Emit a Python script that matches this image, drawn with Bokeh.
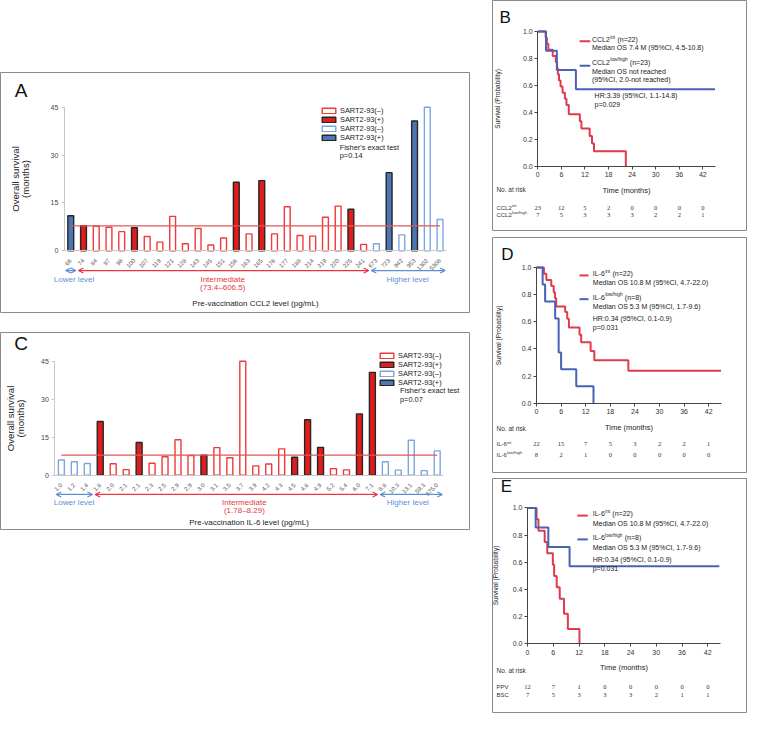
import math
from bokeh.plotting import figure
from bokeh.models import (ColumnDataSource, Range1d, FixedTicker, Label, LabelSet,
                          Arrow, OpenHead, Legend, LegendItem, Spacer, PrintfTickFormatter)
from bokeh.layouts import row, column
from bokeh.embed import file_html
from bokeh.resources import INLINE

FONT = "Liberation Sans"

# ---------------- Panel A data (CCL2) ----------------
ccl2_levels = ["66", "74", "84", "97", "98", "100", "107", "119", "121", "128", "143", "145",
               "151", "156", "163", "165", "176", "177", "188", "214", "219", "220", "225",
               "241", "673", "723", "942", "953", "1302", "5308"]
ccl2_os = [11.0, 7.9, 7.7, 7.4, 6.0, 7.2, 4.5, 2.7, 10.8, 2.2, 7.0, 1.8, 4.0, 21.5, 5.3,
           22.0, 5.3, 13.8, 4.8, 4.6, 10.5, 14.0, 13.0, 2.0, 2.2, 24.5, 5.0, 40.7, 45.0, 9.8]
ccl2_sart = [1, 1, 0, 0, 0, 1, 0, 0, 0, 0, 0, 0, 0, 1, 0, 1, 0, 0, 0, 0, 0, 0, 1, 0,
             0, 1, 0, 1, 0, 0]
ccl2_group = ["Lower"] * 1 + ["Intermediate"] * 23 + ["Higher"] * 6
ccl2_median_os = 7.8
ccl2_range = "(73.4–606.5)"
ccl2_p = "p=0.14"

# ---------------- Panel C data (IL-6) ----------------
il6_levels = ["1.0", "1.2", "1.4", "1.8", "2.0", "2.1", "2.1", "2.3", "2.5", "2.9", "2.9",
              "3.0", "3.1", "3.5", "3.7", "3.9", "4.2", "4.3", "4.5", "4.6", "4.9", "5.2",
              "5.4", "6.0", "7.1", "8.8", "10.3", "13.1", "59.3", "875.0"]
il6_os = [6.0, 5.3, 4.6, 21.2, 4.5, 2.2, 12.9, 4.7, 7.3, 14.0, 7.8, 7.9, 10.9, 6.9, 45.0,
          3.7, 4.4, 10.4, 7.1, 21.9, 11.0, 2.6, 2.1, 24.2, 40.6, 5.3, 2.0, 13.8, 1.8, 9.6]
il6_sart = [0, 0, 0, 1, 0, 0, 1, 0, 0, 0, 0, 1, 0, 0, 0, 0, 0, 0, 1, 1, 1, 0, 0, 1, 1,
            0, 0, 0, 0, 0]
il6_group = ["Lower"] * 3 + ["Intermediate"] * 22 + ["Higher"] * 5
il6_median_os = 7.9
il6_range = "(1.78–8.29)"
il6_p = "p=0.07"

# ---------------- Kaplan-Meier data ----------------
time_ticks = [0, 6, 12, 18, 24, 30, 36, 42]
surv_ticks = [0.0, 0.2, 0.4, 0.6, 0.8, 1.0]

B_int_t = [0, 2.0, 2.3, 2.7, 3.8, 4.6, 4.9, 5.1, 5.4, 5.8, 6.3, 6.9, 7.3, 7.9, 10.7, 11.1,
           13.2, 13.8, 14.3, 22.4]
B_int_s = [1.0, 0.955, 0.909, 0.864, 0.818, 0.773, 0.727, 0.682, 0.636, 0.591, 0.545, 0.5,
           0.455, 0.386, 0.334, 0.28, 0.225, 0.169, 0.111, 0.0]
B_low_t = [0, 2.1, 4.85, 9.7, 45.1]
B_low_s = [1.0, 0.857, 0.714, 0.571, 0.571]
B_risk_int = [23, 12, 5, 2, 0, 0, 0, 0]
B_risk_low = [7, 5, 3, 3, 3, 2, 2, 1]

D_int_t = [0, 1.8, 2.4, 3.6, 4.2, 4.5, 4.8, 7.0, 7.5, 7.9, 10.5, 10.9, 13.2, 14.1, 22.4, 45.0]
D_int_s = [1.0, 0.955, 0.909, 0.864, 0.818, 0.773, 0.714, 0.673, 0.623, 0.558, 0.505, 0.449,
           0.385, 0.317, 0.240, 0.240]
D_low_t = [0, 1.5, 2.1, 4.55, 5.4, 6.0, 9.7, 13.9]
D_low_s = [1.0, 0.875, 0.75, 0.625, 0.375, 0.25, 0.125, 0.0]
D_risk_int = [22, 15, 7, 5, 3, 2, 2, 1]
D_risk_low = [8, 2, 1, 0, 0, 0, 0, 0]

E_int_t = [0, 2.1, 2.55, 4.0, 4.6, 5.9, 6.2, 6.8, 7.5, 8.5, 9.4, 12.1]
E_int_s = [1.0, 0.917, 0.833, 0.75, 0.667, 0.583, 0.5, 0.417, 0.333, 0.222, 0.111, 0.0]
E_low_t = [0, 1.9, 4.85, 9.8, 44.7]
E_low_s = [1.0, 0.857, 0.714, 0.571, 0.571]
E_risk_ppv = [12, 7, 1, 0, 0, 0, 0, 0]
E_risk_bsc = [7, 5, 3, 3, 3, 2, 1, 1]

# ---------------- styling ----------------
BORDER = "#8a8a8a"
RED_EDGE, RED_FILL = "#f03a3a", "#e01c1c"
BLUE_EDGE, BLUE_FILL = "#7ea5de", "#4c76b2"
DARK = "#262626"
BAR_STYLE = {("red", 0): (RED_EDGE, "white"), ("red", 1): (DARK, RED_FILL),
             ("blue", 0): (BLUE_EDGE, "white"), ("blue", 1): (DARK, BLUE_FILL)}
TXT_BLUE, TXT_RED = "#5b8fd6", "#e8373d"
KM_RED, KM_BLUE = "#e03a4c", "#4862b6"

AW = {'C': 722, 'L': 556, '2': 556, 'I': 278, '-': 333, '6': 556, 'i': 222, 'n': 556,
      't': 278, 'l': 222, 'o': 556, 'w': 722, '/': 278, 'h': 556, 'g': 556, ' ': 278}


def tw(s, size):
    return sum(AW.get(c, 556) for c in s) / 1000.0 * size


def lbl(p, x, y, text, size, color="#222", align="left", baseline="middle", xo=0, yo=0):
    p.add_layout(Label(x=x, y=y, text=text, x_offset=xo, y_offset=yo, text_font=FONT,
                       text_font_size=f"{size}px", text_color=color, text_align=align,
                       text_baseline=baseline))


def sup_lbl(p, x, y, base, sup, rest, size, color="#222"):
    lbl(p, x, y, base, size, color)
    w1 = tw(base, size)
    ss = round(size * 0.68, 2)
    lbl(p, x, y, sup, ss, color, xo=w1 + 0.3, yo=size * 0.38)
    if rest:
        lbl(p, x, y, rest, size, color, xo=w1 + tw(sup, ss) + 0.6 + tw(" ", size))


def base_fig(W, H, xr, yr):
    p = figure(width=W, height=H, x_range=Range1d(*xr), y_range=Range1d(*yr),
               output_backend="svg", toolbar_location=None, min_border=0,
               min_border_left=0, min_border_right=0, min_border_top=0, min_border_bottom=0)
    p.outline_line_color = BORDER
    p.outline_line_width = 1
    p.background_fill_color = "white"
    p.border_fill_color = "white"
    p.xgrid.grid_line_color = None
    p.ygrid.grid_line_color = None
    return p


def make_bar(levels, os_m, sart, group, median, range_text, pval, letter, xlabel, c):
    n = len(levels)
    xs = list(range(1, n + 1))
    p = base_fig(c["W"], c["H"], c["xr"], c["yr"])
    colors = ["red" if g == "Intermediate" else "blue" for g in group]
    rend = {}
    for key in [("red", 0), ("red", 1), ("blue", 0), ("blue", 1)]:
        idx = [i for i in range(n) if colors[i] == key[0] and sart[i] == key[1]]
        if idx:
            data = dict(x=[xs[i] for i in idx], top=[os_m[i] for i in idx])
        else:  # no patient in this group: empty proxy so the legend still shows the key
            data = dict(x=[float("nan")], top=[float("nan")])
        lc, fc = BAR_STYLE[key]
        rend[key] = p.vbar(x="x", top="top", bottom=0, width=0.46,
                           source=ColumnDataSource(data),
                           fill_color=fc, line_color=lc, line_width=1.4)
    p.line([xs[0], xs[-1]], [median, median], line_color="#e05858", line_width=1.3)

    legend = Legend(items=[LegendItem(label="SART2-93(–)", renderers=[rend[("red", 0)]]),
                           LegendItem(label="SART2-93(+)", renderers=[rend[("red", 1)]]),
                           LegendItem(label="SART2-93(–)", renderers=[rend[("blue", 0)]]),
                           LegendItem(label="SART2-93(+)", renderers=[rend[("blue", 1)]])],
                    location=c["leg"], glyph_width=17, glyph_height=7, label_height=7,
                    spacing=-1, padding=0, margin=0, label_standoff=3,
                    border_line_color=None, background_fill_alpha=0,
                    label_text_font=FONT, label_text_font_size="7.4px",
                    label_text_color="#222")
    p.add_layout(legend)
    lbl(p, c["fx"], c["fy1"], "Fisher's exact test", 7.4)
    lbl(p, c["fx"], c["fy2"], pval, 7.4)

    # axes (drawn at the data origin inside the panel)
    ya, xa = p.yaxis[0], p.xaxis[0]
    ya.fixed_location = 0.5
    ya.bounds = (0, 45)
    ya.ticker = FixedTicker(ticks=[0, 15, 30, 45])
    ya.axis_label = "Overall survival\n(months)"
    ya.axis_label_text_font = FONT
    ya.axis_label_text_font_style = "normal"
    ya.axis_label_text_font_size = "9.6px"
    ya.axis_label_text_line_height = 0.9
    ya.axis_label_text_color = "#222"
    ya.axis_label_standoff = c["ys"]
    ya.major_label_text_font = FONT
    ya.major_label_text_font_size = "7px"
    ya.major_label_text_color = "#444"
    ya.major_label_standoff = 3
    ya.axis_line_color = "#c8c8c8"
    ya.major_tick_line_color = "#c8c8c8"
    ya.major_tick_out = 3
    ya.major_tick_in = 0
    ya.minor_tick_line_color = None

    xa.fixed_location = 0
    xa.bounds = (0.5, n + 0.5)
    xa.ticker = FixedTicker(ticks=xs)
    xa.major_label_overrides = {x: lab for x, lab in zip(xs, levels)}
    xa.major_label_orientation = math.pi / 4
    xa.major_label_text_font = FONT
    xa.major_label_text_font_size = "6px"
    xa.major_label_text_color = "#555"
    xa.major_label_standoff = 3
    xa.axis_line_color = "#c8c8c8"
    xa.major_tick_line_color = None
    xa.minor_tick_line_color = None
    xa.axis_label = xlabel
    xa.axis_label_text_font = FONT
    xa.axis_label_text_font_style = "normal"
    xa.axis_label_text_font_size = "8px"
    xa.axis_label_text_color = "#222"
    xa.axis_label_standoff = c["xs"]

    # level arrows and labels
    for gname, col in [("Lower", TXT_BLUE), ("Intermediate", TXT_RED), ("Higher", TXT_BLUE)]:
        idx = [i for i, g in enumerate(group) if g == gname]
        x0, x1 = xs[idx[0]] - 0.5 + 0.1, xs[idx[-1]] + 0.5 - 0.1
        p.add_layout(Arrow(x_start=x0, x_end=x1, y_start=c["ay"], y_end=c["ay"],
                           start=OpenHead(size=5, line_color=col, line_width=1.2),
                           end=OpenHead(size=5, line_color=col, line_width=1.2),
                           line_color=col, line_width=1.2))
    lbl(p, c["lowx"], c["ly"], "Lower level", 8, TXT_BLUE)
    lbl(p, c["intx"], c["ly"], "Intermediate", 8, TXT_RED, align="center")
    lbl(p, c["intx"], c["ry"], range_text, 8, TXT_RED, align="center")
    lbl(p, c["hix"], c["ly"], "Higher level", 8, TXT_BLUE)
    lbl(p, c["lx"], c["lyy"], letter, 19, "#111", align="center")
    return p


def make_km(t1, s1, t2, s2, r1, r2, c):
    p = base_fig(c["W"], c["H"], c["xr"], c["yr"])
    p.step(t1, s1, mode="after", line_color=KM_RED, line_width=2)
    p.step(t2, s2, mode="after", line_color=KM_BLUE, line_width=2)

    xa, ya = p.xaxis[0], p.yaxis[0]
    for ax in (xa, ya):
        ax.fixed_location = 0
        ax.axis_line_color = "#444"
        ax.major_tick_line_color = "#444"
        ax.major_tick_out = 3
        ax.major_tick_in = 0
        ax.minor_tick_line_color = None
        ax.major_label_text_font = FONT
        ax.major_label_text_font_size = "7px"
        ax.major_label_text_color = "#333"
        ax.major_label_standoff = 2
        ax.axis_label_text_font = FONT
        ax.axis_label_text_font_style = "normal"
        ax.axis_label_text_color = "#222"
    xa.bounds = (0, c["xmax"])
    xa.ticker = FixedTicker(ticks=time_ticks)
    xa.axis_label = "Time (months)"
    xa.axis_label_text_font_size = "7.5px"
    xa.axis_label_standoff = c["xs"]
    xa.major_label_standoff = 3
    ya.bounds = (0, 1)
    ya.ticker = FixedTicker(ticks=surv_ticks)
    ya.formatter = PrintfTickFormatter(format="%.1f")
    ya.axis_label = "Survival (Probability)"
    ya.axis_label_text_font_size = "6.5px"
    ya.axis_label_standoff = c["ys"]

    # legend-like annotations
    for yy, col in [(c["sw_r"], KM_RED), (c["sw_b"], KM_BLUE)]:
        p.add_layout(Arrow(x_start=c["sw_x0"], x_end=c["sw_x1"], y_start=yy, y_end=yy,
                           start=None, end=None, line_color=col, line_width=2))
    tx = c["tx"]
    n1 = c["name"]
    sup_lbl(p, tx, c["r1"], n1, "int", c["n_int"], 7, "#222")
    lbl(p, tx, c["r2"], c["med_int"], 7)
    sup_lbl(p, tx, c["b1"], n1, "low/high", c["n_low"], 7, "#222")
    yb = c["b2"]
    for line in c["med_low"]:
        lbl(p, tx, yb, line, 7)
        yb -= c["dl"]
    lbl(p, c["hx"], c["hr"], c["hr_text"], 7)
    lbl(p, c["hx"], c["pv"], c["p_text"], 7)

    # at-risk table
    lbl(p, c["rx"], c["nar"], "No. at risk", 6.5, "#333")
    for yy, counts, lab in [(c["row1"], r1, c["rowlab"][0]), (c["row2"], r2, c["rowlab"][1])]:
        src = ColumnDataSource(dict(t=time_ticks, y=[yy] * len(counts),
                                    n=[str(v) for v in counts]))
        p.add_layout(LabelSet(x="t", y="y", text="n", source=src, text_font=FONT,
                              text_font_size="6.5px", text_color="#333", text_align="center",
                              text_baseline="middle"))
        if lab[1]:
            sup_lbl(p, c["rx"], yy, lab[0], lab[1], "", 6, "#333")
        else:
            lbl(p, c["rx"], yy, lab[0], 6, "#333")
    lbl(p, c["lx"], c["ly"], c["letter"], 17, "#111", align="center")
    return p


pA = make_bar(ccl2_levels, ccl2_os, ccl2_sart, ccl2_group, ccl2_median_os, ccl2_range, ccl2_p,
              "A", "Pre-vaccination CCL2 level (pg/mL)",
              dict(W=470, H=241, xr=(-4.519, 32.392), yr=(-19.66, 55.89), leg=(320, 171),
                   fx=22.12, fy1=32.5, fy2=29.9, ys=17, xs=24, ay=-6.2, ly=-9.0, ry=-11.5,
                   lowx=-0.33, intx=12.93, hix=25.8, lx=-2.9, lyy=50.3))
pC = make_bar(il6_levels, il6_os, il6_sart, il6_group, il6_median_os, il6_range, il6_p,
              "C", "Pre-vaccination IL-6 level (pg/mL)",
              dict(W=470, H=198, xr=(-3.696, 32.57), yr=(-21.83, 56.34), leg=(378, 143),
                   fx=27.13, fy1=33.4, fy2=30.0, ys=12, xs=17, ay=-7.6, ly=-10.66, ry=-13.9,
                   lowx=0.42, intx=15.12, hix=26.1, lx=-2.1, lyy=51.9))

pB = make_km(B_int_t, B_int_s, B_low_t, B_low_s, B_risk_int, B_risk_low,
             dict(W=255, H=231, xr=(-11.52, 53.36), yr=(-0.4847, 1.2304), xmax=45.1,
                  xs=5, ys=19,
                  sw_x0=10.65, sw_x1=13.35, sw_r=0.927, sw_b=0.746, tx=13.78,
                  name="CCL2", n_int="(n=22)", n_low="(n=23)",
                  r1=0.9375, r2=0.879, med_int="Median OS 7.4 M (95%CI, 4.5-10.8)",
                  b1=0.770, b2=0.705, dl=0.063,
                  med_low=["Median OS not reached", "(95%CI, 2.0-not reached)"],
                  hx=14.45, hr=0.523, pv=0.455, hr_text="HR:3.39 (95%CI, 1.1-14.8)",
                  p_text="p=0.029", rx=-10.52, nar=-0.172, row1=-0.308, row2=-0.361,
                  rowlab=[("CCL2", "int"), ("CCL2", "low/high")], lx=-8.27, ly=1.107,
                  letter="B"))
pD = make_km(D_int_t, D_int_s, D_low_t, D_low_s, D_risk_int, D_risk_low,
             dict(W=255, H=236, xr=(-10.73, 51.46), yr=(-0.5173, 1.2215), xmax=45.2,
                  xs=5, ys=17,
                  sw_x0=10.49, sw_x1=12.68, sw_r=0.942, sw_b=0.767, tx=13.73,
                  name="IL-6", n_int="(n=22)", n_low="(n=8)",
                  r1=0.955, r2=0.890, med_int="Median OS 10.8 M (95%CI, 4.7-22.0)",
                  b1=0.779, b2=0.714, dl=0.065,
                  med_low=["Median OS 5.3 M (95%CI, 1.7-9.6)"],
                  hx=13.73, hr=0.625, pv=0.558, hr_text="HR:0.34 (95%CI, 0.1-0.9)",
                  p_text="p=0.031", rx=-9.76, nar=-0.183, row1=-0.303, row2=-0.380,
                  rowlab=[("IL-6", "int"), ("IL-6", "low/high")], lx=-7.07, ly=1.099,
                  letter="D"))
pE = make_km(E_int_t, E_int_s, E_low_t, E_low_s, E_risk_ppv, E_risk_bsc,
             dict(W=255, H=235, xr=(-8.162, 51.26), yr=(-0.5112, 1.2169), xmax=44.9,
                  xs=5, ys=11,
                  sw_x0=11.6, sw_x1=14.04, sw_r=0.944, sw_b=0.769, tx=15.19,
                  name="IL-6", n_int="(n=22)", n_low="(n=8)",
                  r1=0.957, r2=0.889, med_int="Median OS 10.8 M (95%CI, 4.7-22.0)",
                  b1=0.781, b2=0.713, dl=0.065,
                  med_low=["Median OS 5.3 M (95%CI, 1.7-9.6)"],
                  hx=15.19, hr=0.619, pv=0.552, hr_text="HR:0.34 (95%CI, 0.1-0.9)",
                  p_text="p=0.031", rx=-7.24, nar=-0.193, row1=-0.314, row2=-0.374,
                  rowlab=[("PPV", ""), ("BSC", "")], lx=-4.92, ly=1.159, letter="E"))

left = column(Spacer(width=470, height=72), pA, Spacer(width=470, height=19), pC)
right = column(pB, Spacer(width=255, height=6), pD, Spacer(width=255, height=5), pE)
layout = row(left, right, spacing=22)

open("out.html", "w").write(file_html(layout, INLINE))
